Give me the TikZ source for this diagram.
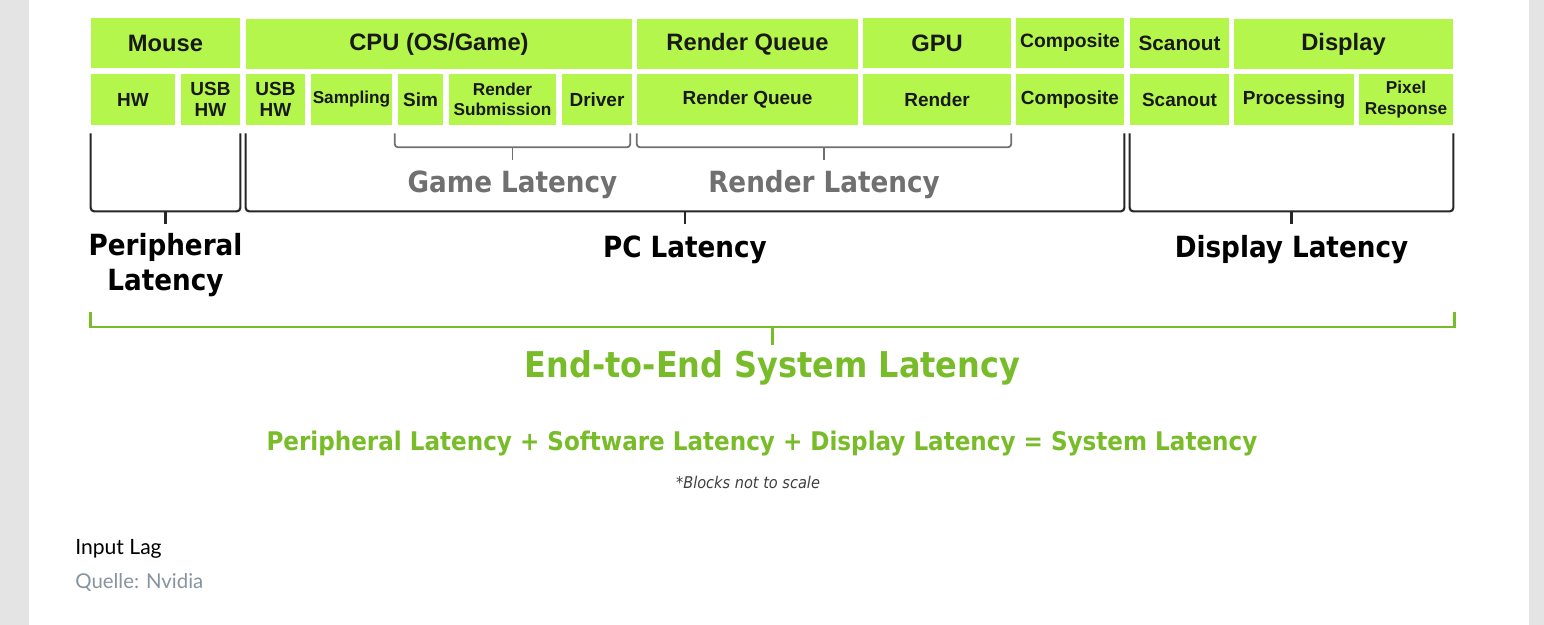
\documentclass[tikz,border=0pt]{standalone}
\usepackage{fontspec}
\usepackage{xcolor}
\usetikzlibrary{positioning}
\newfontfamily\arialfont{Liberation Sans}
\newfontfamily\nvfont{DejaVu Sans Condensed}
\newfontfamily\latofont{Lato}
\definecolor{nvlime}{RGB}{180,246,75}
\definecolor{nvgreen}{RGB}{120,188,42}
\definecolor{pagegray}{RGB}{228,228,228}
\definecolor{lblgray}{RGB}{112,112,112}
\definecolor{srcgray}{RGB}{135,148,160}

\begin{document}
\begin{tikzpicture}[
        headbox/.style={rectangle,fill=nvlime,inner sep=0pt,minimum height=1cm,align=center,text=black!90,
          font=\arialfont\bfseries\fontsize{13.5}{15}\selectfont},
        subbox/.style={headbox,minimum height=1.02cm,font=\arialfont\bfseries\fontsize{10.8}{11.6}\selectfont},
        tinybox/.style={subbox,font=\arialfont\bfseries\fontsize{9.8}{11.6}\selectfont},
        brace/.style={line width=1.2pt,rounded corners=2pt,draw=black!85},
        gbrace/.style={line width=1pt,rounded corners=2pt,draw=lblgray},
        ebrace/.style={line width=1.7pt,draw=nvgreen},
        lbl/.style={inner sep=0pt,align=center,font=\nvfont\bfseries\fontsize{16.6}{19.5}\selectfont}]
        \fill[pagegray] (0,0) rectangle (30.88,-12.5);
        \fill[white] (0.58,0) rectangle (30.58,-12.5);
        \useasboundingbox (0,0) rectangle (30.88,-12.5);

        \node[headbox,minimum width=2.98cm] (mouse) at (3.31,-0.86) {Mouse};
        \node[headbox,minimum width=7.72cm] (cpu) at (8.78,-0.88) {CPU (OS/Game)};
        \node[headbox,minimum width=4.42cm] (rq) at (14.95,-0.88) {Render Queue};
        \node[headbox,minimum width=2.96cm] (gpu) at (18.74,-0.86) {GPU};
        \node[headbox,minimum width=2.16cm,font=\arialfont\bfseries\fontsize{11}{12}\selectfont] (comp) at (21.40,-0.86) {Composite};
        \node[headbox,minimum width=1.98cm,font=\arialfont\bfseries\fontsize{11.8}{12}\selectfont] (scan) at (23.59,-0.86) {Scanout};
        \node[headbox,minimum width=4.38cm] (disp) at (26.87,-0.88) {Display};

        \node[subbox,minimum width=1.68cm] (hw) at (2.66,-1.99) {HW};
        \node[subbox,minimum width=1.18cm] (usbm) at (4.21,-1.99) {USB\\HW};
        \node[subbox,minimum width=1.18cm] (usbc) at (5.51,-1.99) {USB\\HW};
        \node[tinybox,minimum width=1.62cm] (samp) at (7.03,-1.99) {Sampling};
        \node[subbox,minimum width=0.90cm] (sim) at (8.41,-1.99) {Sim};
        \node[tinybox,minimum width=2.14cm] (rsub) at (10.05,-1.99) {Render\\Submission};
        \node[subbox,minimum width=1.40cm] (drv) at (11.94,-1.99) {Driver};
        \node[subbox,minimum width=4.42cm] (rq2) at (14.95,-1.99) {Render Queue};
        \node[subbox,minimum width=2.96cm] (rend) at (18.74,-1.99) {Render};
        \node[subbox,minimum width=2.16cm] (comp2) at (21.40,-1.99) {Composite};
        \node[subbox,minimum width=1.98cm] (scan2) at (23.59,-1.99) {Scanout};
        \node[subbox,minimum width=2.40cm] (proc) at (25.88,-1.99) {Processing};
        \node[tinybox,minimum width=1.88cm] (pix) at (28.12,-1.99) {Pixel\\Response};

        \draw[gbrace] ([xshift=-0.06cm,yshift=-0.16cm]sim.south west) -- ([xshift=-0.06cm,yshift=-0.44cm]sim.south west)
          -- coordinate[midway] (gm) ([xshift=-0.04cm,yshift=-0.44cm]drv.south east) -- ([xshift=-0.04cm,yshift=-0.16cm]drv.south east);
        \draw[gbrace] (gm) -- ++(0,-0.26) coordinate (gmend);
        \draw[gbrace] ([yshift=-0.16cm]rq2.south west) -- ([yshift=-0.44cm]rq2.south west)
          -- coordinate[midway] (rl) ([yshift=-0.44cm]rend.south east) -- ([yshift=-0.16cm]rend.south east);
        \draw[gbrace] (rl) -- ++(0,-0.26) coordinate (rlend);
        \node[lbl,text=lblgray,below=0.2cm of gmend] (gamelat) {Game Latency};
        \node[lbl,text=lblgray,below=0.2cm of rlend] (rendlat) {Render Latency};

        \draw[brace] ([yshift=-0.16cm]hw.south west) -- ([yshift=-1.72cm]hw.south west)
          -- coordinate[midway] (pl) ([yshift=-1.72cm]usbm.south east) -- ([yshift=-0.16cm]usbm.south east);
        \draw[brace] (pl) -- ++(0,-0.26) coordinate (plend);
        \draw[brace] ([yshift=-0.16cm]usbc.south west) -- ([yshift=-1.72cm]usbc.south west)
          -- coordinate[midway] (pc) ([yshift=-1.72cm]comp2.south east) -- ([yshift=-0.16cm]comp2.south east);
        \draw[brace] (pc) -- ++(0,-0.26) coordinate (pcend);
        \draw[brace] ([yshift=-0.16cm]scan2.south west) -- ([yshift=-1.72cm]scan2.south west)
          -- coordinate[midway] (dl) ([yshift=-1.72cm]pix.south east) -- ([yshift=-0.16cm]pix.south east);
        \draw[brace] (dl) -- ++(0,-0.26) coordinate (dlend);
        \node[lbl,below=0.18cm of plend] (perlat) {Peripheral\\Latency};
        \node[lbl,below=0.22cm of pcend] (pclat) {PC Latency};
        \node[lbl,below=0.22cm of dlend] (displat) {Display Latency};

        \draw[ebrace] (hw.west |- 0,-6.24) -- (hw.west |- 0,-6.54)
          -- coordinate[midway] (e2e) ([xshift=0.02cm]pix.east |- 0,-6.54) -- ([xshift=0.02cm]pix.east |- 0,-6.24);
        \draw[ebrace] (e2e) -- ++(0,-0.36) coordinate (e2eend);
        \node[lbl,text=nvgreen,below=0.1cm of e2eend,font=\nvfont\bfseries\fontsize{20.2}{23}\selectfont] (e2elat) {End-to-End System Latency};

        \node[lbl,text=nvgreen,anchor=base,font=\nvfont\bfseries\fontsize{14.6}{16}\selectfont] (formula) at (15.24,-9.0)
          {Peripheral Latency + Software Latency + Display Latency = System Latency};
        \node[lbl,text=black!75,anchor=base,font=\nvfont\itshape\fontsize{9.2}{10}\selectfont] (note) at (14.96,-9.76)
          {*Blocks not to scale};

        \node[anchor=base west,inner sep=0pt,font=\latofont\fontsize{12}{14}\selectfont] (caption) at (1.5,-11.08) {Input Lag};
        \node[anchor=base west,inner sep=0pt,text=srcgray,font=\latofont\fontsize{11.6}{14}\selectfont] (source) at (1.5,-11.76) {Quelle: Nvidia};
      \end{tikzpicture}
\end{document}
